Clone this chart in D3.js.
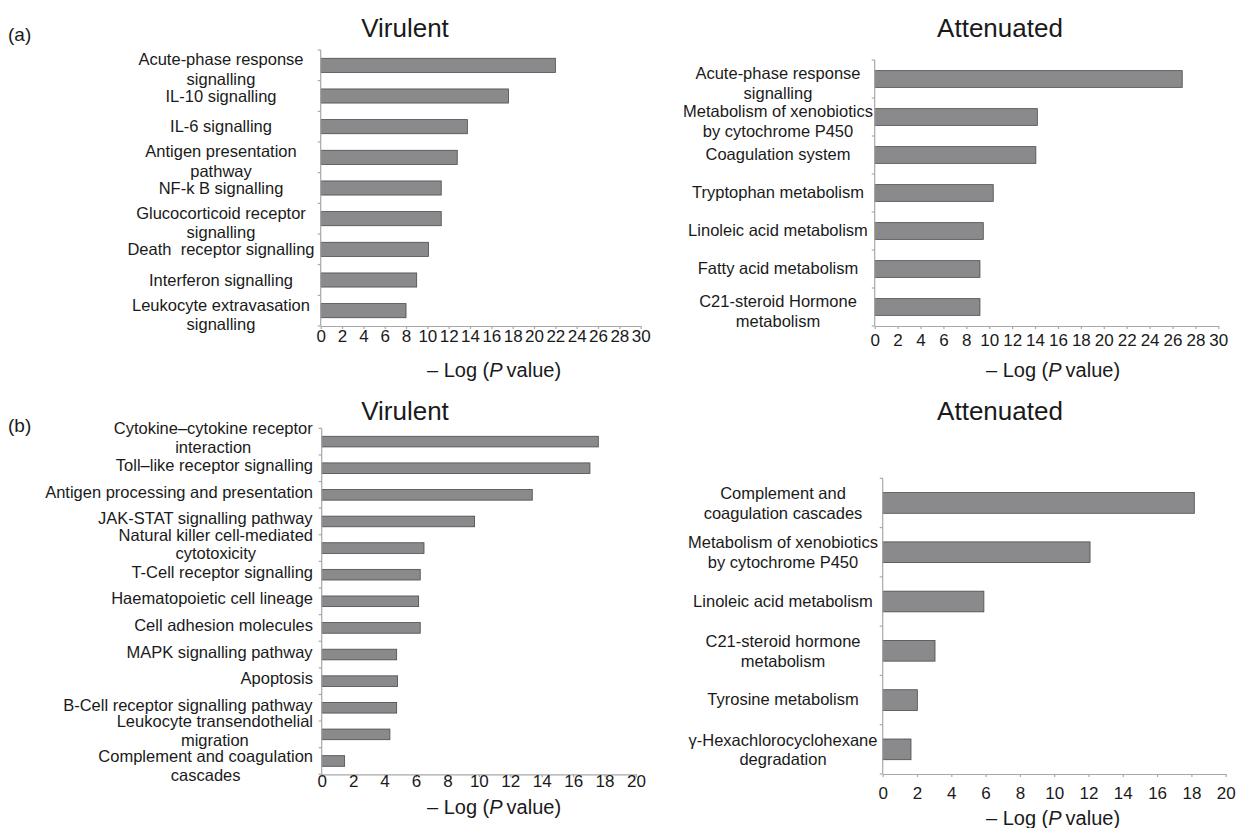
<!DOCTYPE html>
<html>
<head>
<meta charset="utf-8">
<script src="https://cdn.jsdelivr.net/npm/d3@7/dist/d3.min.js"></script>
<style>
  html, body { margin: 0; padding: 0; background: #fff; }
  svg text { font-family: "Liberation Sans", Arial, sans-serif; fill: #1a1a1a; }
  svg text.cat { white-space: pre; }
</style>
</head>
<body>
<svg id="chart" width="1238" height="828"></svg>
<script>
// (a) Virulent – canonical pathways
const aVirCategories = [
  "Acute-phase response\nsignalling",
  "IL-10 signalling",
  "IL-6 signalling",
  "Antigen presentation\npathway",
  "NF-k B signalling",
  "Glucocorticoid receptor\nsignalling",
  "Death  receptor signalling",
  "Interferon signalling",
  "Leukocyte extravasation\nsignalling"
];
const aVirValues = [22.0, 17.6, 13.75, 12.8, 11.3, 11.3, 10.1, 9.0, 8.0];

// (a) Attenuated – canonical pathways
const aAttCategories = [
  "Acute-phase response\nsignalling",
  "Metabolism of xenobiotics\nby cytochrome P450",
  "Coagulation system",
  "Tryptophan metabolism",
  "Linoleic acid metabolism",
  "Fatty acid metabolism",
  "C21-steroid Hormone\nmetabolism"
];
const aAttValues = [26.85, 14.2, 14.07, 10.35, 9.48, 9.19, 9.19];

// (b) Virulent – KEGG pathways
const bVirCategories = [
  "Cytokine–cytokine receptor\ninteraction",
  "Toll–like receptor signalling",
  "Antigen processing and presentation",
  "JAK-STAT signalling pathway",
  "Natural killer cell-mediated\ncytotoxicity",
  "T-Cell receptor signalling",
  "Haematopoietic cell lineage",
  "Cell adhesion molecules",
  "MAPK signalling pathway",
  "Apoptosis",
  "B-Cell receptor signalling pathway",
  "Leukocyte transendothelial\nmigration",
  "Complement and coagulation\ncascades"
];
const bVirValues = [17.6, 17.07, 13.4, 9.73, 6.51, 6.27, 6.17, 6.27, 4.77, 4.83, 4.77, 4.34, 1.46];

// (b) Attenuated – KEGG pathways
const bAttCategories = [
  "Complement and\ncoagulation cascades",
  "Metabolism of xenobiotics\nby cytochrome P450",
  "Linoleic acid metabolism",
  "C21-steroid hormone\nmetabolism",
  "Tyrosine metabolism",
  "γ-Hexachlorocyclohexane\ndegradation"
];
const bAttValues = [18.17, 12.09, 5.9, 3.05, 2.02, 1.65];

// axis ticks
const ticksTo30 = [0, 2, 4, 6, 8, 10, 12, 14, 16, 18, 20, 22, 24, 26, 28, 30];
const ticksTo20 = [0, 2, 4, 6, 8, 10, 12, 14, 16, 18, 20];

const titles = ["Virulent", "Attenuated"];
const panelLetters = ["(a)", "(b)"];

const svg = d3.select("#chart");
const BAR_FILL = "#8a8a8c";
const BAR_EDGE = "#4a4a4c";
const AXIS_COLOR = "#a8a8a8";
const MIN_LINE_GAP = 16.5;   // smallest baseline gap between neighbouring labels

const panels = [
  { cats: aVirCategories, vals: aVirValues, ticks: ticksTo30, title: titles[0],
    x0: 320.7, x1: 640.7, yTop: 50, yBot: 326, pad: 0.54,
    labelMode: "center", labelX: 221, labelSize: 16.5, lineH: 19.5, singleDy: 5.5, multiShift: 4.2,
    tickDy: 16, titleX: 405, titleY: 37, axisTitleX: 494, axisTitleY: 377 },
  { cats: aAttCategories, vals: aAttValues, ticks: ticksTo30, title: titles[1],
    x0: 874.7, x1: 1218.3, yTop: 60, yBot: 326, pad: 0.56,
    labelMode: "center", labelX: 778, labelSize: 16.5, lineH: 20, singleDy: 4.5, multiShift: 5,
    tickDy: 20, titleX: 1000, titleY: 37, axisTitleX: 1053, axisTitleY: 377 },
  { cats: bVirCategories, vals: bVirValues, ticks: ticksTo20, title: titles[0],
    x0: 321.7, x1: 636, yTop: 428.3, yBot: 774.3, pad: 0.6,
    labelMode: "right", labelX: 313, labelSize: 16.5, lineH: 18.5, singleDy: 3, multiShift: -1,
    tickDy: 13, titleX: 405, titleY: 420, axisTitleX: 494, axisTitleY: 814 },
  { cats: bAttCategories, vals: bAttValues, ticks: ticksTo20, title: titles[1],
    x0: 882.7, x1: 1225.7, yTop: 478.3, yBot: 774, pad: 0.58,
    labelMode: "center", labelX: 783, labelSize: 16.5, lineH: 19.5, singleDy: 5, multiShift: 1,
    tickDy: 25, titleX: 1000, titleY: 420, axisTitleX: 1053, axisTitleY: 825 }
];

panels.forEach(p => {
  const g = svg.append("g");
  const x = d3.scaleLinear()
    .domain([p.ticks[0], p.ticks[p.ticks.length - 1]])
    .range([p.x0, p.x1]);
  const y = d3.scaleBand()
    .domain(p.cats)
    .range([p.yTop, p.yBot])
    .paddingInner(p.pad)
    .paddingOuter(p.pad / 2);

  // bars
  g.selectAll("rect.bar")
    .data(p.cats.map((c, i) => ({ c, v: p.vals[i] })))
    .join("rect")
    .attr("class", "bar")
    .attr("x", x(0))
    .attr("y", d => y(d.c))
    .attr("width", d => x(d.v) - x(0))
    .attr("height", y.bandwidth())
    .attr("fill", BAR_FILL)
    .attr("stroke", BAR_EDGE)
    .attr("stroke-width", 0.8);

  // y axis line with category separators
  const bounds = d3.range(p.cats.length + 1).map(i => p.yTop + i * (p.yBot - p.yTop) / p.cats.length);
  g.append("line")
    .attr("x1", x(0)).attr("x2", x(0))
    .attr("y1", p.yTop).attr("y2", p.yBot)
    .attr("stroke", AXIS_COLOR).attr("stroke-width", 1.2);
  g.selectAll("line.ytick")
    .data(bounds)
    .join("line")
    .attr("class", "ytick")
    .attr("x1", x(0) - 3).attr("x2", x(0))
    .attr("y1", d => d).attr("y2", d => d)
    .attr("stroke", AXIS_COLOR).attr("stroke-width", 1.2);

  // x axis
  const xAxis = d3.axisBottom(x).tickValues(p.ticks).tickSize(3).tickSizeOuter(0).tickPadding(0);
  const ax = g.append("g")
    .attr("transform", `translate(0,${p.yBot})`)
    .call(xAxis);
  ax.select(".domain").attr("stroke", AXIS_COLOR).attr("stroke-width", 1.2);
  ax.selectAll(".tick line").attr("stroke", AXIS_COLOR).attr("stroke-width", 1.2);
  ax.selectAll(".tick text")
    .attr("y", p.tickDy)
    .attr("dy", 0)
    .attr("font-size", 17)
    .attr("font-family", "Liberation Sans, Arial, sans-serif")
    .attr("fill", "#1a1a1a");

  // category labels, pushed down when they would run into the label above
  let prevLast = -Infinity;
  p.cats.forEach(c => {
    const lines = c.split("\n");
    const cy = y(c) + y.bandwidth() / 2;
    let first;
    if (lines.length === 1) first = cy + p.singleDy;
    else first = cy + p.singleDy - p.lineH / 2 * (lines.length - 1) + p.multiShift;
    first = Math.max(first, prevLast + MIN_LINE_GAP);
    prevLast = first + (lines.length - 1) * p.lineH;
    const t = g.append("text")
      .attr("class", "cat")
      .attr("font-size", p.labelSize)
      .attr("text-anchor", "middle");
    lines.forEach((ln, i) => {
      t.append("tspan")
        .attr("x", p.labelX)
        .attr("y", first + i * p.lineH)
        .text(ln);
    });
    if (p.labelMode === "right") {
      // block right-aligned, lines centred within the block
      const w = t.node().getBBox().width;
      t.selectAll("tspan").attr("x", p.labelX - w / 2);
    }
  });

  // panel title
  g.append("text")
    .attr("x", p.titleX).attr("y", p.titleY)
    .attr("text-anchor", "middle")
    .attr("font-size", 26)
    .text(p.title);

  // axis title: – Log (P value)
  const at = g.append("text")
    .attr("x", p.axisTitleX).attr("y", p.axisTitleY)
    .attr("text-anchor", "middle")
    .attr("font-size", 20);
  at.append("tspan").text("– Log (");
  at.append("tspan").attr("font-style", "italic").text("P");
  at.append("tspan").text("\u2009value)");
});

// panel letters
svg.selectAll("text.letter")
  .data(panelLetters)
  .join("text")
  .attr("class", "letter")
  .attr("x", 8)
  .attr("y", (d, i) => i === 0 ? 41 : 432)
  .attr("font-size", 19)
  .text(d => d);
</script>
</body>
</html>
